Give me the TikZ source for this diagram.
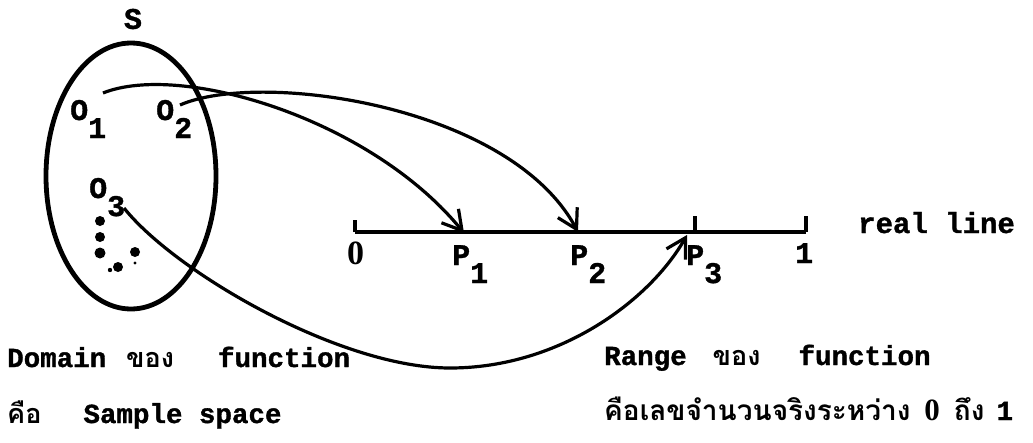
\documentclass[tikz,border=0pt]{standalone}
\usepackage{fontspec}
\setmonofont{Liberation Mono}[BoldFeatures={FakeBold=1.2}]
\newfontfamily\thaifont[Script=Thai]{Loma}
\newfontfamily\zerofont{Liberation Serif}
\usetikzlibrary{arrows.meta,shapes.geometric}
\tikzset{
  tw/.style={font=\ttfamily\bfseries\fontsize{27.5}{30}\selectfont, inner sep=0pt},
  lbl/.style={font=\ttfamily\bfseries\fontsize{30}{32}\selectfont, inner sep=0pt, anchor=base west},
  arrowcurve/.style={line width=3.2pt, -{Straight Barb[length=19pt,width=22pt]}},
  axis/.style={line width=3.2pt},
  dotmark/.style={fill=black, draw=none},
}
\newcommand{\thtxt}[1]{{\thaifont\bfseries\fontsize{27}{30}\selectfont #1}}
\newcommand{\zro}[1]{{\zerofont\bfseries\fontsize{#1}{#1}\selectfont 0}}
\begin{document}
\begin{tikzpicture}[x=1pt,y=-1pt]
\useasboundingbox (0,0) rectangle (1033,442);
% sample space
\node[tw, font=\ttfamily\bfseries\fontsize{30}{32}\selectfont] (S) at (133,19) {S};
\node[draw, ellipse, line width=4.8pt, minimum width=170pt, minimum height=266pt, inner sep=0pt] (set) at (131,176) {};
\node[lbl] (o1) at (70,120) {O\raisebox{-0.6em}{1}};
\node[lbl] (o2) at (156,120) {O\raisebox{-0.6em}{2}};
\node[lbl] (o3) at (89,198) {O\raisebox{-0.6em}{3}};
\fill[dotmark] (100,221) circle (5pt);
\fill[dotmark] (100,237) circle (5pt);
\fill[dotmark] (100,253) circle (5.5pt);
\fill[dotmark] (135,252) circle (5pt);
\fill[dotmark] (118,267) circle (5pt);
\fill[dotmark] (110,270) circle (2.2pt);
\fill[dotmark] (135,263) circle (1.6pt);
% real line
\coordinate (z) at (355,232);
\coordinate (one) at (806,232);
\coordinate (p1) at (464,233);
\coordinate (p2) at (578,232);
\coordinate (p3) at (687,235);
\coordinate (p3t) at (695,232);
\draw[axis] (z) -- (one);
\draw[axis] (z) -- ++(0,-12);
\draw[axis] (one) -- ++(0,-16);
\draw[axis] (p3t) -- ++(0,-16);
\node[lbl] (l0) at (347,264) {\zro{34}};
\node[lbl] (l1) at (795,263) {1};
\node[lbl] (lp1) at (452,265) {P\raisebox{-0.6em}{1}};
\node[lbl] (lp2) at (570,265) {P\raisebox{-0.6em}{2}};
\node[lbl] (lp3) at (686,265) {P\raisebox{-0.6em}{3}};
\node[lbl, font=\ttfamily\bfseries\fontsize{29}{32}\selectfont] (rl) at (858,233) {real line};
% mapping arrows
\coordinate (s1) at (103,93);
\coordinate (s2) at (180,105);
\coordinate (s3) at (124,208);
\draw[arrowcurve] (s1) .. controls (180,62) and (370,118) .. (p1);
\draw[arrowcurve] (s2) .. controls (260,70) and (510,105) .. (p2);
\draw[arrowcurve] (s3) .. controls (175,272) and (340,368) .. (450,368) .. controls (560,368) and (650,300) .. (p3);
% captions
\node[tw, anchor=base west] (dom) at (7,367) {Domain\hspace{20pt}\thtxt{ของ}\hspace{44pt}function};
\node[tw, anchor=base west] (dom2) at (7,423) {\thtxt{คือ}\hspace{42pt}Sample space};
\node[tw, anchor=base west] (rng) at (604,365) {Range\hspace{26pt}\thtxt{ของ}\hspace{38pt}function};
\node[tw, anchor=base west] (rng2) at (604,420) {{\thaifont\bfseries\fontsize{28}{30}\selectfont คือเลขจำนวนจริงระหว่าง}\hspace{14pt}\zro{31}\hspace{14pt}{\thaifont\bfseries\fontsize{28}{30}\selectfont ถึง}\hspace{12pt}1};
\end{tikzpicture}
\end{document}
